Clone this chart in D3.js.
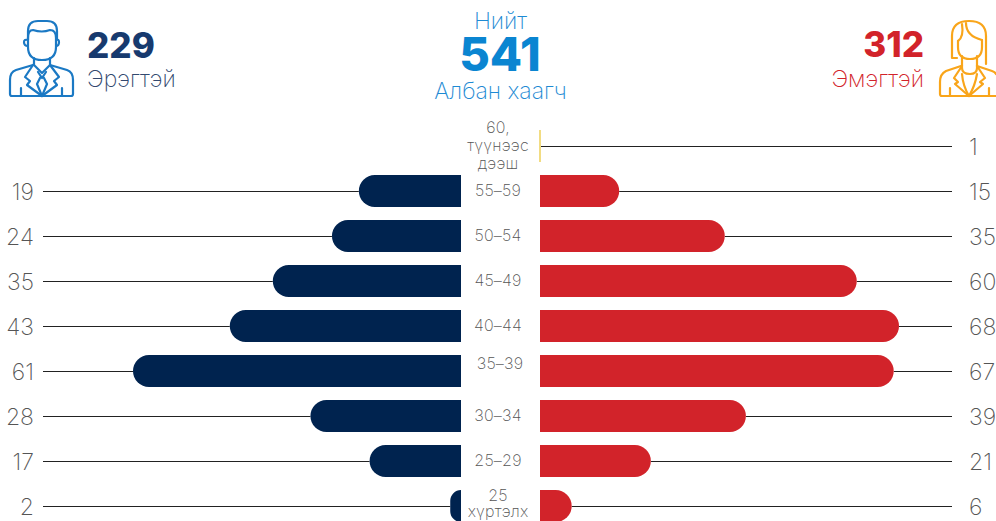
<!DOCTYPE html>
<html>
<head>
<meta charset="utf-8">
<script src="https://cdn.jsdelivr.net/npm/d3@7"></script>
<style>
html, body { margin: 0; padding: 0; background: #fff; overflow: hidden; }
text { font-family: "Inter", "Noto Sans", sans-serif; }
</style>
</head>
<body>
<div id="chart"></div>
<script>
var ageLabels = [["60,", "түүнээс", "дээш"], ["55–59"], ["50–54"], ["45–49"], ["40–44"], ["35–39"], ["30–34"], ["25–29"], ["25", "хүртэлх"]];
var maleValues = [null, 19, 24, 35, 43, 61, 28, 17, 2];
var femaleValues = [1, 15, 35, 60, 68, 67, 39, 21, 6];
var maleTotal = 229, femaleTotal = 312, allTotal = 541;

var width = 996, height = 521;
var barHeight = 32;

var svg = d3.select("#chart").append("svg")
    .attr("width", width)
    .attr("height", height)
    .style("display", "block");

var y = d3.scaleBand()
    .domain(d3.range(ageLabels.length))
    .range([123.5, 528.5]);

var xLeft = d3.scaleLinear().domain([0, 61]).range([461, 133]);
var xRight = d3.scaleLinear().domain([0, 68]).range([540, 899]);

function rowY(i) { return y(i) + y.bandwidth() / 2; }

// bar with only the outer end rounded
function barPath(x0, x1, cy) {
    var dir = x1 > x0 ? 1 : -1;
    var w = Math.abs(x1 - x0);
    var r = Math.min(barHeight / 2, w);
    var t = cy - barHeight / 2, b = cy + barHeight / 2;
    var sweep = dir > 0 ? 1 : 0;
    return "M" + x0 + "," + t +
        "L" + (x1 - dir * r) + "," + t +
        "A" + r + "," + r + " 0 0 " + sweep + " " + x1 + "," + (t + r) +
        "L" + x1 + "," + (b - r) +
        "A" + r + "," + r + " 0 0 " + sweep + " " + (x1 - dir * r) + "," + b +
        "L" + x0 + "," + b + "Z";
}

var maleRows = maleValues.map(function(d, i) { return {v: d, i: i}; }).filter(function(d) { return d.v !== null; });

// leader lines
svg.append("g").selectAll("line")
    .data(maleRows)
    .enter().append("line")
    .attr("x1", 43).attr("x2", function(d) { return xLeft(d.v); })
    .attr("y1", function(d) { return rowY(d.i) + 0.5; }).attr("y2", function(d) { return rowY(d.i) + 0.5; })
    .attr("stroke", "#222").attr("stroke-width", 1);

svg.append("g").selectAll("line")
    .data(femaleValues)
    .enter().append("line")
    .attr("x1", function(d, i) { return i == 0 ? xRight(0) : xRight(d); }).attr("x2", 952)
    .attr("y1", function(d, i) { return rowY(i) + 0.5; }).attr("y2", function(d, i) { return rowY(i) + 0.5; })
    .attr("stroke", "#222").attr("stroke-width", 1);

// bars
svg.append("g").selectAll("path")
    .data(maleRows)
    .enter().append("path")
    .attr("d", function(d) { return barPath(xLeft(0), xLeft(d.v), rowY(d.i)); })
    .attr("fill", "#00234f");

svg.append("g").selectAll("path")
    .data(femaleValues)
    .enter().append("path")
    .attr("d", function(d, i) {
        if (i == 0) return null;
        return barPath(xRight(0), xRight(d), rowY(i));
    })
    .attr("fill", "#d2232a");

// the single case in the top row is only a thin yellow mark
svg.append("rect")
    .attr("x", xRight(0) - 1).attr("width", 2)
    .attr("y", rowY(0) - barHeight / 2).attr("height", barHeight)
    .attr("fill", "#f2dc82");

// value labels
svg.append("g").selectAll("text")
    .data(maleRows)
    .enter().append("text")
    .attr("x", 34).attr("y", function(d) { return rowY(d.i) + 9; })
    .attr("text-anchor", "end")
    .attr("font-size", 23).attr("font-weight", 200).attr("fill", "#555")
    .text(function(d) { return d.v; });

svg.append("g").selectAll("text")
    .data(femaleValues)
    .enter().append("text")
    .attr("x", 969).attr("y", function(d, i) { return rowY(i) + 9; })
    .attr("text-anchor", "start")
    .attr("font-size", 23).attr("font-weight", 200).attr("fill", "#555")
    .text(function(d) { return d; });

// age labels, 35-39 sits a little high in the original
ageLabels.forEach(function(lines, i) {
    var lh = lines.length == 2 ? 16 : 18;
    var top = rowY(i) - (lines.length - 1) * lh / 2 + 5;
    if (i == 5) top -= 7;
    if (i == 8) top -= 2;
    lines.forEach(function(s, k) {
        svg.append("text")
            .attr("x", i == 5 ? 500 : 498).attr("y", top + k * lh)
            .attr("text-anchor", "middle")
            .attr("font-size", 16).attr("font-weight", 200).attr("letter-spacing", 0.2).attr("fill", "#555")
            .text(s);
    });
});

// header
function headerText(x, yy, s, size, weight, color, anchor) {
    svg.append("text").attr("x", x).attr("y", yy)
        .attr("text-anchor", anchor).attr("font-size", size)
        .attr("font-weight", weight).attr("fill", color).text(s);
}
headerText(87, 58, maleTotal, 35, 800, "#173a6e", "start");
headerText(87, 87, "Эрэгтэй", 23, 200, "#33496f", "start");
headerText(924, 57, femaleTotal, 35, 800, "#d2232a", "end");
headerText(924, 87, "Эмэгтэй", 23, 200, "#d2232a", "end");
headerText(500.5, 29, "Нийт", 23, 200, "#1e8ad3", "middle");
headerText(500, 71, allTotal, 47, 800, "#0a85d1", "middle");
headerText(500.5, 99, "Албан хаагч", 23, 200, "#1e8ad3", "middle");

// man icon
var man = svg.append("g").attr("fill", "none").attr("stroke", "#1b79c4")
    .attr("stroke-width", 2.2).attr("stroke-linecap", "round").attr("stroke-linejoin", "round");
man.append("path").attr("d", "M28,40 V31 Q28,21 38,21 H47 Q57,21 57,31 V39");
man.append("path").attr("d", "M28,46 Q24,46 24,42 Q24,39 28,40 M56,40 Q59,39 59,42 Q59,46 56,46");
man.append("path").attr("d", "M28,38 Q28,30 33,30 Q42,33 50,30 Q56,30 56,38 V47 Q56,60 42,60 Q28,60 28,47 Z");
man.append("path").attr("d", "M34,58 V65 L42,73 L50,65 V58");
man.append("path").attr("d", "M33,65 L16,70 Q10,72 10,80 V94 Q10,96 12,96 H71 Q73,96 73,94 V80 Q73,72 67,70 L50,65");
man.append("path").attr("d", "M33,65 L25,77 L30,81 L27,85 L42,96 L57,85 L54,81 L59,77 L50,65");
man.append("path").attr("d", "M38,72 L42,78 L46,72 M40,78 L37,84 L42,96 L47,84 L44,78");
man.append("path").attr("d", "M21,88 V96 M62,88 V96");

// woman icon
var woman = svg.append("g").attr("fill", "none").attr("stroke", "#f9a51a")
    .attr("stroke-width", 2.2).attr("stroke-linecap", "round").attr("stroke-linejoin", "round");
woman.append("path").attr("d", "M957,58 H952 V36 Q952,21 969,21 Q986,21 986,36 V64");
woman.append("path").attr("d", "M958,41 Q964,37 962,24 M966,23 Q966,36 982,40");
woman.append("path").attr("d", "M958,41 V47 Q958,59 970,59 Q982,59 982,47 V40");
woman.append("path").attr("d", "M962,56 V68 Q962,74 970,74 Q977,74 977,68 V56");
woman.append("path").attr("d", "M961,66 L946,71 Q940,74 940,82 V94 Q940,96 942,96 H996");
woman.append("path").attr("d", "M977,66 L992,71 Q995,72 996,74");
woman.append("path").attr("d", "M962,66 L954,78 L958,82 L955,84 L969,96 L983,84 L980,82 L985,78 L977,66");
woman.append("path").attr("d", "M962,74 Q963,86 969,96 Q975,86 977,74");
woman.append("path").attr("d", "M950,88 V96 M989,88 V96");
</script>
</body>
</html>
